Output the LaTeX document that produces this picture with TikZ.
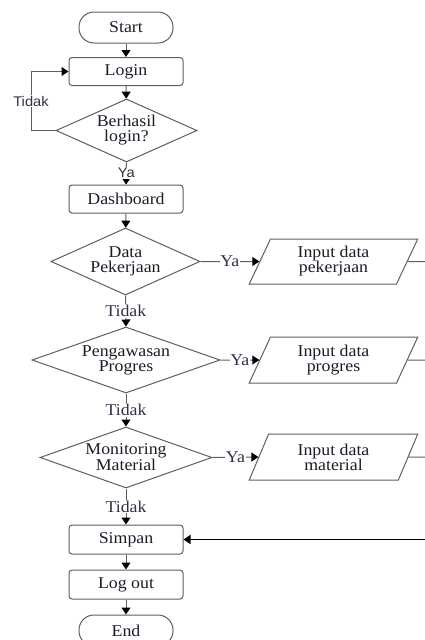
\documentclass[tikz,border=0pt]{standalone}
\usepackage{fontspec}
\setmainfont{Liberation Serif}[FakeStretch=1.08]
\newfontfamily\labsans{Liberation Sans}[FakeStretch=1.05]
\usetikzlibrary{shapes.geometric,arrows.meta}

\definecolor{linegray}{HTML}{5E5E5E}
\definecolor{textdark}{HTML}{1C1C28}
\definecolor{labdark}{HTML}{2E3344}

\begin{document}
\begin{tikzpicture}[x=1pt,y=-1pt,
  box/.style={draw=linegray, line width=1pt, rounded corners=3pt,
    minimum width=114pt, minimum height=28pt, inner sep=0pt,
    font=\fontsize{16.5}{15}\selectfont, text=textdark},
  term/.style={box, rounded corners=15pt, minimum width=94pt, minimum height=31pt},
  decision/.style={diamond, draw=linegray, line width=1pt, inner sep=0pt,
    align=center, font=\fontsize{16.5}{15}\selectfont, text=textdark},
  iobox/.style={trapezium, trapezium left angle=68, trapezium right angle=112,
    trapezium stretches=true, draw=linegray, line width=1pt, inner sep=0pt,
    minimum width=169pt, minimum height=46pt, align=center,
    font=\fontsize{16.5}{15}\selectfont, text=textdark},
  flow/.style={draw=linegray, line width=1pt,
    -{Triangle[length=7pt,width=9pt,color=black,fill=black]}},
  stub/.style={draw=linegray, line width=1pt},
  lab/.style={fill=white, inner sep=0.8pt, text=labdark,
    font=\fontsize{16.5}{15}\selectfont},
  sanslab/.style={fill=white, inner sep=0.8pt, text=labdark,
    font=\labsans\fontsize{14}{14}\selectfont}
]
\useasboundingbox (0,0) rectangle (425,640);
\clip (0,0) rectangle (425,640);

% main column
\node[term] (start) at (126,27.5) {Start};
\node[box] (login) at (126,71.5) {Login};
\node[decision, aspect=2.24, minimum width=141pt, minimum height=63pt] (ok) at (126.5,130.5) {Berhasil\\login?};
\node[box] (dash) at (126,199) {Dashboard};
\node[decision, aspect=2.22, minimum width=149pt, minimum height=67pt] (dp) at (125.5,261.5) {Data\\Pekerjaan};
\node[decision, aspect=2.85, minimum width=188pt, minimum height=66pt] (pg) at (126,360) {Pengawasan\\Progres};
\node[decision, aspect=2.82, minimum width=172pt, minimum height=61pt] (mm) at (126,457.5) {Monitoring\\Material};
\node[box, minimum height=29pt] (save) at (126,539.5) {Simpan};
\node[box, minimum height=29pt] (out) at (126,584.5) {Log out};
\node[term] (end) at (126,630.5) {End};

% input blocks
\node[iobox, minimum height=45pt] (in1) at (333.5,261.5) {Input data\\pekerjaan};
\node[iobox] (in2) at (333.5,360) {Input data\\progres};
\node[iobox] (in3) at (333.5,457) {Input data\\material};

\coordinate (r1) at (430,261.5);
\coordinate (r2) at (430,360);
\coordinate (r3) at (430,457);
\coordinate (rs) at (430,539.5);
\coordinate (loopb) at (31,130.5);
\coordinate (loopt) at (31,71.5);

% connectors
\draw[flow] (start) -- (login);
\draw[flow] (login) -- (ok);
\draw[flow] (ok.west) -- (loopb) -- node[sanslab] {Tidak} (loopt) -- (login.west);
\draw[flow] (ok.south) -- node[sanslab, pos=0.48] {Ya} (dash.north);
\draw[flow] (dash) -- (dp);

\draw[flow] (dp.east) -- node[lab] {Ya} (in1.west);
\draw[flow] (dp.south) -- node[lab] {Tidak} (pg.north);
\draw[flow] (pg.east) -- node[lab] {Ya} (in2.west);
\draw[flow] (pg.south) -- node[lab] {Tidak} (mm.north);
\draw[flow] (mm.east) -- node[lab] {Ya} (in3.west);
\draw[flow] (mm.south) -- node[lab] {Tidak} (save.north);

\draw[stub] (in1.east) -- (r1);
\draw[stub] (in2.east) -- (r2);
\draw[stub] (in3.east) -- (r3);
\draw[flow, draw=black, line width=1.6pt] (rs) -- (save.east);

\draw[flow] (save) -- (out);
\draw[flow] (out) -- (end);
\end{tikzpicture}
\end{document}
